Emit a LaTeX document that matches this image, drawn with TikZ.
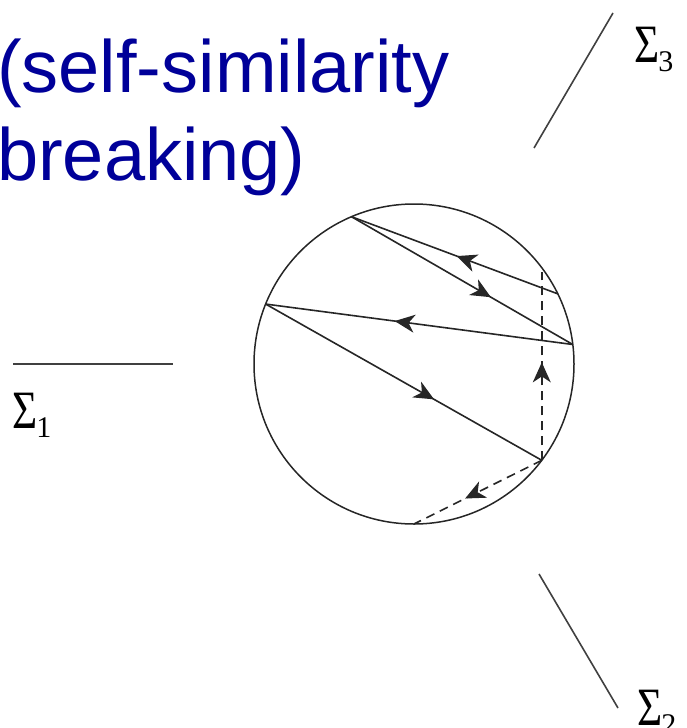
\documentclass[tikz,border=0pt]{standalone}
\usepackage{fontspec}
\newfontfamily\titlefont{Liberation Sans}
\newfontfamily\sigfont{Liberation Serif}
\usetikzlibrary{arrows.meta,decorations.markings}
\definecolor{titleblue}{RGB}{0,0,153}
\newcommand{\sig}[1]{{\sigfont\fontsize{54}{54}\selectfont\scalebox{0.8}[1]{Σ}\kern-1pt\raisebox{-9pt}{\fontsize{30}{30}\selectfont #1}}}
\tikzset{
  ray/.style={line width=1.6pt,draw=black!85},
  wall/.style={line width=1.6pt,draw=black!75},
  guess/.style={ray,dash pattern=on 9pt off 6pt},
  midarrow/.style={postaction={decorate},decoration={markings,
      mark=at position #1 with {\arrow{Stealth[length=20pt,width=18pt,inset=6pt]}}}},
  sigma/.style={anchor=base west,inner sep=0pt},
}
\begin{document}
\begin{tikzpicture}[x=1pt,y=-1pt]
  \useasboundingbox (0,0) rectangle (687,728);
  % title
  \node[anchor=base west,inner sep=0pt,align=left,text=titleblue,
        font=\titlefont\fontsize{74}{88}\selectfont] (heading) at (-3,180)
        {(self-similarity\\breaking)};
  % the three planes
  \draw[wall] (13,364) -- (173,364);
  \draw[wall] (613,13) -- (534,148);
  \draw[wall] (539,574) -- (618,708);
  \node[sigma] (sigone) at (12,428) {\sig{1}};
  \node[sigma] (sigthree) at (634,62) {\sig{3}};
  \node[sigma] (sigtwo) at (637,725) {\sig{2}};
  % the ball and the bounces
  \node[circle,draw,line width=1.5pt,draw=black!85,minimum size=320pt,
        inner sep=0pt,outer sep=0pt] (ball) at (414,364) {};
  \coordinate (A) at (ball.113);
  \coordinate (B) at (ball.26);
  \coordinate (C) at (ball.7.6);
  \coordinate (D) at (ball.158.7);
  \coordinate (E) at (ball.-37.5);
  \coordinate (F) at (ball.-90);
  \coordinate (vtop) at (E |- 0,272);
  \draw[ray,midarrow=0.49] (B) -- (A);
  \draw[ray,midarrow=0.63] (A) -- (C);
  \draw[ray,midarrow=0.58] (C) -- (D);
  \draw[ray,midarrow=0.61] (D) -- (E);
  \draw[guess,midarrow=0.6] (E) -- (F);
  \draw[guess,midarrow=0.52] (E) -- (vtop);
\end{tikzpicture}
\end{document}
